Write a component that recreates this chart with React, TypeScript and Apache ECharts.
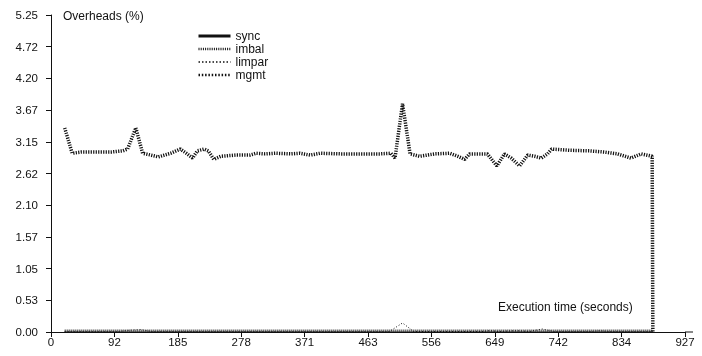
import React, { useEffect, useRef } from "react";
import * as echarts from "echarts";

const xTickLabels = ["0", "92", "185", "278", "371", "463", "556", "649", "742", "834", "927"];
const yTickLabels = ["0.00", "0.53", "1.05", "1.57", "2.10", "2.62", "3.15", "3.67", "4.20", "4.72", "5.25"];
const seriesNames = ["sync", "imbal", "limpar", "mgmt"];

// [time (s), overhead (%)]
const syncPoints = [[20, 0], [880, 0]];
const imbalPoints = [[20, 0.02], [200, 0.02], [400, 0.02], [600, 0.02], [880, 0.02]];
const limparPoints = [
  [20, 0.01], [100, 0.01], [115, 0.03], [131, 0.04], [146, 0.01], [300, 0.01], [495, 0.01],
  [514, 0.15], [530, 0.01], [630, 0.01], [641, 0.02], [655, 0.01], [681, 0.02], [700, 0.01],
  [718, 0.05], [735, 0.01], [790, 0.01], [802, 0.02], [815, 0.01], [880, 0.01],
];
const mgmtPoints = [
  [20, 3.38], [31, 2.96], [44, 2.98], [66, 2.98], [88, 2.98], [105, 3.0], [112, 3.03], [124, 3.38],
  [134, 2.96], [146, 2.93], [157, 2.9], [175, 2.96], [189, 3.03], [198, 2.96], [207, 2.88], [214, 3.0],
  [224, 3.03], [230, 3.0], [238, 2.86], [248, 2.91], [270, 2.93], [291, 2.93], [300, 2.96], [313, 2.95],
  [328, 2.96], [350, 2.95], [364, 2.96], [379, 2.93], [394, 2.96], [423, 2.95], [452, 2.95], [481, 2.95],
  [497, 2.96], [503, 2.88], [514, 3.78], [525, 2.95], [539, 2.91], [561, 2.95], [583, 2.96], [595, 2.91],
  [605, 2.86], [612, 2.95], [638, 2.95], [652, 2.75], [663, 2.95], [673, 2.88], [685, 2.75], [697, 2.93],
  [707, 2.91], [717, 2.88], [726, 2.95], [732, 3.03], [758, 3.01], [787, 3.0], [809, 2.98], [828, 2.95],
  [848, 2.88], [863, 2.95], [879, 2.91], [880, 0],
];

const X_INTERVAL = 92.7;
const Y_INTERVAL = 0.525;

export default function App() {
  const ref = useRef<HTMLDivElement>(null);
  useEffect(() => {
    if (!ref.current) return;
    const chart = echarts.init(ref.current, undefined, { renderer: "svg" });
    const font = "Liberation Sans, Arial, sans-serif";
    const ink = "#111";
    chart.setOption({
      animation: false,
      textStyle: { fontFamily: font },
      grid: { left: 51, right: 17, top: 15, bottom: 24 },
      legend: {
        orient: "vertical",
        left: 192,
        top: 25,
        itemWidth: 32,
        itemHeight: 10,
        itemGap: 1,
        itemStyle: { opacity: 0 },
        textStyle: { fontSize: 12, color: ink, fontFamily: font, lineHeight: 12 },
        data: [
          { name: seriesNames[0], lineStyle: { width: 3, type: "solid", color: ink } },
          { name: seriesNames[1], lineStyle: { width: 2.5, type: [1, 1.2], color: ink } },
          { name: seriesNames[2], lineStyle: { width: 1.5, type: [1.5, 2], color: ink } },
          { name: seriesNames[3], lineStyle: { width: 2.5, type: [1.5, 1.8], color: ink } },
        ],
      },
      xAxis: {
        type: "value",
        min: 0,
        max: 927,
        interval: X_INTERVAL,
        splitLine: { show: false },
        axisLine: { lineStyle: { color: ink, width: 1 } },
        axisTick: { inside: false, length: 5, lineStyle: { color: ink } },
        axisLabel: {
          fontSize: 11.5,
          color: ink,
          margin: 4,
          fontFamily: font,
          formatter: (v: number) => xTickLabels[Math.round(v / X_INTERVAL)] ?? "",
        },
      },
      yAxis: {
        type: "value",
        min: 0,
        max: 5.25,
        interval: Y_INTERVAL,
        splitLine: { show: false },
        axisLine: { show: true, lineStyle: { color: ink, width: 1 } },
        axisTick: { show: true, inside: false, length: 5, lineStyle: { color: ink } },
        axisLabel: {
          fontSize: 11.5,
          color: ink,
          margin: 13,
          fontFamily: font,
          formatter: (v: number) => yTickLabels[Math.round(v / Y_INTERVAL)] ?? "",
        },
      },
      graphic: [
        {
          type: "text",
          left: 63,
          top: 10,
          style: { text: "Overheads (%)", fontSize: 12, fill: ink, fontFamily: font },
        },
        {
          type: "text",
          left: 498,
          top: 301,
          style: { text: "Execution time (seconds)", fontSize: 12, fill: ink, fontFamily: font },
        },
        {
          type: "line",
          shape: { x1: 685, y1: 332, x2: 693, y2: 332 },
          style: { stroke: ink, lineWidth: 1 },
        },
      ],
      series: [
        {
          name: seriesNames[0],
          type: "line",
          data: syncPoints,
          symbol: "none",
          color: ink,
          lineStyle: { color: ink, width: 1, type: "solid" },
        },
        {
          name: seriesNames[1],
          type: "line",
          data: imbalPoints,
          symbol: "none",
          color: ink,
          lineStyle: { color: "#333", width: 2.5, type: [1, 1] },
        },
        {
          name: seriesNames[2],
          type: "line",
          data: limparPoints,
          symbol: "none",
          color: ink,
          lineStyle: { color: ink, width: 1, type: [1, 2] },
        },
        {
          name: seriesNames[3],
          type: "line",
          data: mgmtPoints,
          symbol: "none",
          color: ink,
          lineStyle: { color: ink, width: 3.5, type: [1.2, 1.3] },
        },
      ],
    });
    return () => chart.dispose();
  }, []);
  return <div ref={ref} style={{ width: 702, height: 356, position: "fixed", left: 0, top: 0 }} />;
}
